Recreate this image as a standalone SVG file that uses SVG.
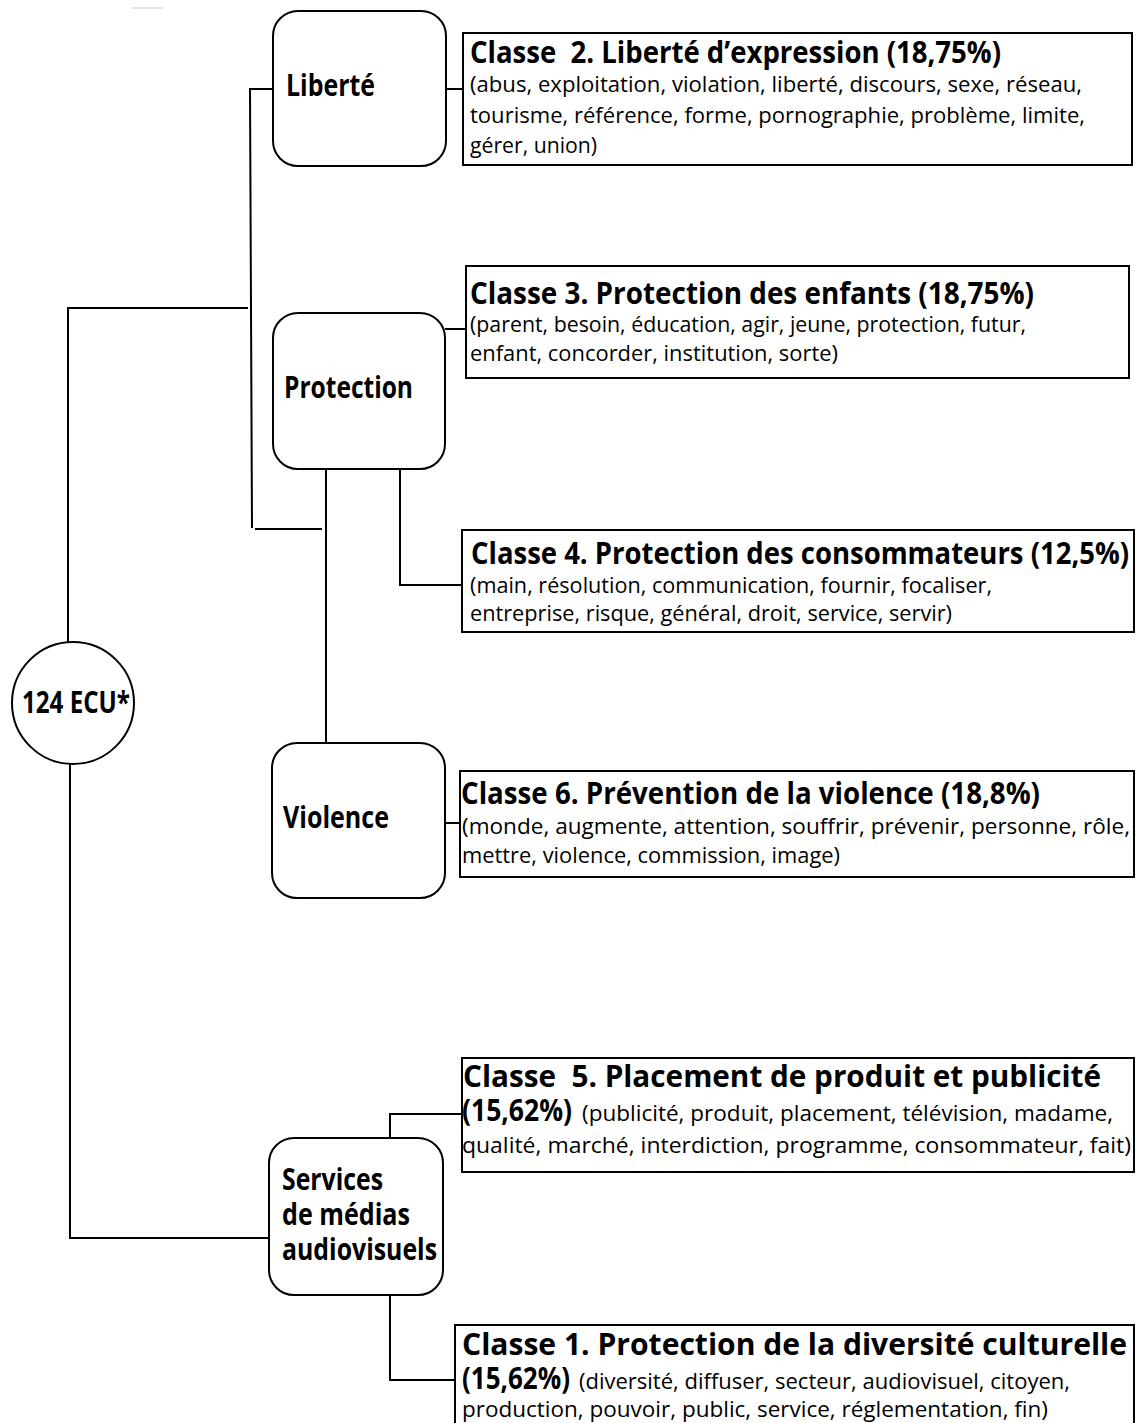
<svg xmlns="http://www.w3.org/2000/svg" width="1136" height="1423" viewBox="0 0 1136 1423">
<style>
.node{fill:#fff;stroke:#000;stroke-width:2}
.box{fill:#fff;stroke:#000;stroke-width:2}
.conn{fill:none;stroke:#000;stroke-width:2}
.lbl{font-family:"Open Sans","Noto Sans",sans-serif;font-weight:700;font-size:30px;fill:#000}
.hd{font-family:"Open Sans","Noto Sans",sans-serif;font-weight:700;font-size:30px;fill:#000}
.bd{font-family:"Open Sans","Noto Sans",sans-serif;font-weight:400;font-size:22px;fill:#000}
</style>
<rect width="1136" height="1423" fill="#fff"/>
<line x1="132" y1="8" x2="163" y2="8" stroke="#ccc" stroke-width="1"/>
<g id="connectors">
<path class="conn" d="M273,89 H250 L252,528"/>
<path class="conn" d="M248,308 H68 V643"/>
<path class="conn" d="M255,529 H322"/>
<path class="conn" d="M326,469 V743"/>
<path class="conn" d="M400,469 V585 H462"/>
<path class="conn" d="M445,329 H466"/>
<path class="conn" d="M446,89 H463"/>
<path class="conn" d="M445,823 H460"/>
<path class="conn" d="M70,764 V1238 H269"/>
<path class="conn" d="M390,1138 V1114 H462"/>
<path class="conn" d="M390,1295 V1380 H455"/>
</g>
<g id="root">
<circle class="node" cx="73" cy="703" r="61"/>
<text class="lbl" x="22" y="713" font-size="28" textLength="108" lengthAdjust="spacingAndGlyphs">124 ECU*</text>
</g>
<g id="liberte">
<rect class="node" x="273" y="11" width="173" height="155" rx="25"/>
<text class="lbl" x="286" y="96" textLength="89" lengthAdjust="spacingAndGlyphs">Liberté</text>
</g>
<g id="protection">
<rect class="node" x="273" y="313" width="172" height="156" rx="25"/>
<text class="lbl" x="284" y="398" textLength="129" lengthAdjust="spacingAndGlyphs">Protection</text>
</g>
<g id="violence">
<rect class="node" x="272" y="743" width="173" height="155" rx="25"/>
<text class="lbl" x="283" y="828" textLength="106" lengthAdjust="spacingAndGlyphs">Violence</text>
</g>
<g id="services">
<rect class="node" x="269" y="1138" width="174" height="157" rx="25"/>
<text class="lbl" x="282" y="1190" textLength="101" lengthAdjust="spacingAndGlyphs">Services</text>
<text class="lbl" x="282" y="1225" textLength="128" lengthAdjust="spacingAndGlyphs">de médias</text>
<text class="lbl" x="282" y="1260" textLength="155" lengthAdjust="spacingAndGlyphs">audiovisuels</text>
</g>
<g id="classe2">
<rect class="box" x="463" y="33" width="669" height="132"/>
<text class="hd" x="470" y="63" textLength="531" lengthAdjust="spacingAndGlyphs">Classe&#160; 2. Liberté d’expression (18,75%)</text>
<text class="bd" x="470" y="92" textLength="612" lengthAdjust="spacingAndGlyphs">(abus, exploitation, violation, liberté, discours, sexe, réseau,</text>
<text class="bd" x="470" y="123" textLength="615" lengthAdjust="spacingAndGlyphs">tourisme, référence, forme, pornographie, problème, limite,</text>
<text class="bd" x="470" y="153" textLength="127" lengthAdjust="spacingAndGlyphs">gérer, union)</text>
</g>
<g id="classe3">
<rect class="box" x="466" y="266" width="663" height="112"/>
<text class="hd" x="470" y="304" textLength="564" lengthAdjust="spacingAndGlyphs">Classe 3. Protection des enfants (18,75%)</text>
<text class="bd" x="470" y="332" textLength="556" lengthAdjust="spacingAndGlyphs">(parent, besoin, éducation, agir, jeune, protection, futur,</text>
<text class="bd" x="470" y="361" textLength="368" lengthAdjust="spacingAndGlyphs">enfant, concorder, institution, sorte)</text>
</g>
<g id="classe4">
<rect class="box" x="462" y="530" width="672" height="102"/>
<text class="hd" x="471" y="564" textLength="658" lengthAdjust="spacingAndGlyphs">Classe 4. Protection des consommateurs (12,5%)</text>
<text class="bd" x="470" y="593" textLength="522" lengthAdjust="spacingAndGlyphs">(main, résolution, communication, fournir, focaliser,</text>
<text class="bd" x="470" y="621" textLength="482" lengthAdjust="spacingAndGlyphs">entreprise, risque, général, droit, service, servir)</text>
</g>
<g id="classe6">
<rect class="box" x="460" y="771" width="674" height="106"/>
<text class="hd" x="461" y="804" textLength="579" lengthAdjust="spacingAndGlyphs">Classe 6. Prévention de la violence (18,8%)</text>
<text class="bd" x="462" y="834" textLength="668" lengthAdjust="spacingAndGlyphs">(monde, augmente, attention, souffrir, prévenir, personne, rôle,</text>
<text class="bd" x="462" y="863" textLength="378" lengthAdjust="spacingAndGlyphs">mettre, violence, commission, image)</text>
</g>
<g id="classe5">
<rect class="box" x="462" y="1058" width="672" height="114"/>
<text class="hd" x="463" y="1087" textLength="638" lengthAdjust="spacingAndGlyphs">Classe&#160; 5. Placement de produit et publicité</text>
<text class="hd" x="462" y="1121" textLength="110" lengthAdjust="spacingAndGlyphs">(15,62%)</text>
<text class="bd" x="582" y="1121" textLength="531" lengthAdjust="spacingAndGlyphs">(publicité, produit, placement, télévision, madame,</text>
<text class="bd" x="462" y="1153" textLength="669" lengthAdjust="spacingAndGlyphs">qualité, marché, interdiction, programme, consommateur, fait)</text>
</g>
<g id="classe1">
<rect class="box" x="455" y="1325" width="679" height="110"/>
<text class="hd" x="462" y="1355" textLength="665" lengthAdjust="spacingAndGlyphs">Classe 1. Protection de la diversité culturelle</text>
<text class="hd" x="462" y="1389" textLength="108" lengthAdjust="spacingAndGlyphs">(15,62%)</text>
<text class="bd" x="579" y="1389" textLength="491" lengthAdjust="spacingAndGlyphs">(diversité, diffuser, secteur, audiovisuel, citoyen,</text>
<text class="bd" x="462" y="1417" textLength="586" lengthAdjust="spacingAndGlyphs">production, pouvoir, public, service, réglementation, fin)</text>
</g>
</svg>
